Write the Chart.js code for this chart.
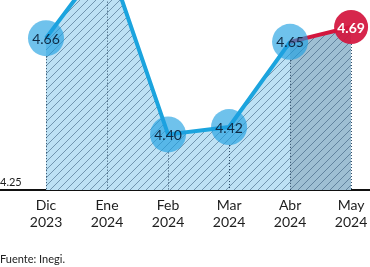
<!DOCTYPE html>
<html><head><meta charset="utf-8">
<script src="https://cdn.jsdelivr.net/npm/chart.js@4.4.0/dist/chart.umd.min.js"></script>
<style>
html,body{margin:0;padding:0;background:#fff;}
#wrap{position:relative;width:370px;height:267px;overflow:hidden;}
#c{position:absolute;left:0;top:0;}
#src{position:absolute;left:0;top:252px;font:11px Lato, sans-serif;color:#222;white-space:nowrap;}
</style></head><body>
<div id="wrap"><canvas id="c" width="370" height="267"></canvas><div id="src">Fuente: Inegi.</div></div>
<script>
const months = ['Dic', 'Ene', 'Feb', 'Mar', 'Abr', 'May'];
const years = ['2023', '2024', '2024', '2024', '2024', '2024'];
const values = [4.66, 4.88, 4.40, 4.42, 4.65, 4.69];
const yTicks = [4.25];

const LINE = '#1ba4de';
const RED = '#d3163e';
const FONT = 'Lato, sans-serif';

function hatch(bg) {
  const s = 8;
  const c = document.createElement('canvas');
  c.width = s; c.height = s;
  const g = c.getContext('2d');
  g.fillStyle = bg; g.fillRect(0, 0, s, s);
  g.strokeStyle = 'rgba(35,70,105,0.55)';
  g.lineWidth = 0.9;
  g.beginPath();
  g.moveTo(-1, s + 1); g.lineTo(s + 1, -1);
  g.moveTo(-2, 2); g.lineTo(2, -2);
  g.moveTo(s - 2, s + 2); g.lineTo(s + 2, s - 2);
  g.stroke();
  return g.createPattern(c, 'repeat');
}
const lightFill = hatch('#bde1f4');
const darkFill = hatch('#9ebfd3');
const lastIdx = values.length - 1;

const points = values.map((v, i) => ({ x: i, y: v }));

const overlay = {
  id: 'overlay',
  beforeDatasetDraw(chart) {
    const meta = chart.getDatasetMeta(0);
    const base = chart.scales.y.getPixelForValue(yTicks[0]);
    const ctx = chart.ctx;
    ctx.save();
    ctx.strokeStyle = '#2b4a66';
    ctx.lineWidth = 1;
    ctx.setLineDash([1, 2]);
    meta.data.forEach((p) => {
      const r = p.options.radius;
      ctx.beginPath();
      ctx.moveTo(Math.round(p.x) + 0.5, p.y + r);
      ctx.lineTo(Math.round(p.x) + 0.5, base);
      ctx.stroke();
    });
    ctx.restore();
  },
  afterDatasetsDraw(chart) {
    const meta = chart.getDatasetMeta(0);
    const ctx = chart.ctx;
    ctx.save();
    ctx.textAlign = 'center';
    ctx.textBaseline = 'middle';
    meta.data.forEach((p, i) => {
      const last = i === lastIdx;
      ctx.font = (last ? 'bold ' : '') + '14px ' + FONT;
      ctx.fillStyle = last ? '#ffffff' : '#0e2a44';
      ctx.fillText(values[i].toFixed(2), p.x, p.y + 1);
    });
    ctx.restore();
  }
};

new Chart(document.getElementById('c'), {
  type: 'line',
  data: {
    datasets: [{
      data: points,
      borderColor: LINE,
      borderWidth: 4,
      tension: 0,
      fill: 'start',
      backgroundColor: lightFill,
      segment: {
        borderColor: (c) => c.p1DataIndex === lastIdx ? RED : LINE,
        backgroundColor: (c) => c.p1DataIndex === lastIdx ? darkFill : lightFill
      },
      pointRadius: (c) => c.dataIndex === lastIdx ? 17 : 18,
      pointHoverRadius: (c) => c.dataIndex === lastIdx ? 17 : 18,
      pointBorderWidth: 0,
      pointBackgroundColor: (c) => c.dataIndex === lastIdx ? 'rgba(211,22,62,0.93)' : 'rgba(30,160,225,0.64)'
    }]
  },
  options: {
    responsive: false,
    animation: false,
    events: [],
    layout: { padding: 0, autoPadding: false },
    plugins: { legend: { display: false }, tooltip: { enabled: false } },
    scales: {
      x: {
        type: 'linear',
        min: -0.754,
        max: 5.31,
        grid: { display: false, drawTicks: false },
        border: { display: true, color: '#111', width: 2 },
        afterBuildTicks: (s) => { s.ticks = months.map((m, i) => ({ value: i })); },
        afterFit: (s) => { s.height = 77; s.paddingLeft = 0; s.paddingRight = 0; },
        ticks: {
          autoSkip: false,
          maxRotation: 0,
          padding: 7,
          color: '#1d1d1d',
          font: { family: FONT, size: 14, lineHeight: 1.2 },
          callback: (v) => [months[v], years[v]]
        }
      },
      y: {
        min: 4.25,
        max: 4.763,
        grid: { display: false, drawTicks: false },
        border: { display: false },
        afterBuildTicks: (s) => { s.ticks = yTicks.map((v) => ({ value: v })); },
        afterFit: (s) => { s.width = 0; s.paddingTop = 0; s.paddingBottom = 0; },
        ticks: {
          mirror: true,
          padding: 0,
          labelOffset: -8,
          color: '#1d1d1d',
          font: { family: FONT, size: 11 },
          callback: (v) => v.toFixed(2)
        }
      }
    }
  },
  plugins: [overlay]
});
</script>
</body></html>
